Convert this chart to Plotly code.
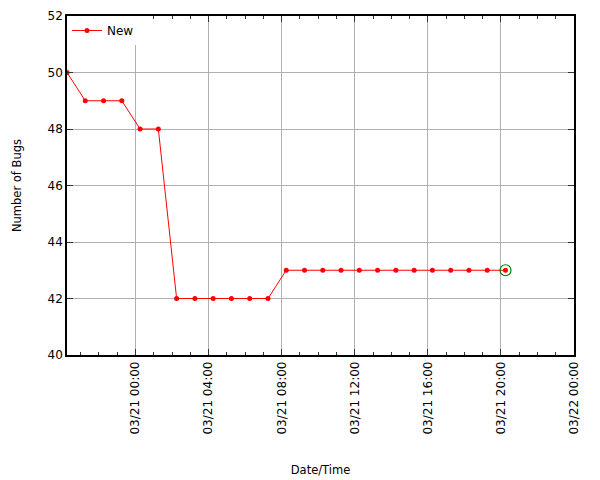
import plotly.graph_objects as go
import pandas as pd

times = pd.date_range("2024-03-20 20:15", periods=25, freq="h").strftime("%Y-%m-%d %H:%M").tolist()
new_bugs = [50, 49, 49, 49, 48, 48, 42, 42, 42, 42, 42, 42,
            43, 43, 43, 43, 43, 43, 43, 43, 43, 43, 43, 43, 43]
x_end = "2024-03-22 00:00"

fig = go.Figure()
fig.add_trace(go.Scatter(
    x=times, y=new_bugs, mode="lines+markers", name="New",
    line=dict(color="red", width=1), marker=dict(color="red", size=5),
))
fig.add_trace(go.Scatter(
    x=[times[-1]], y=[new_bugs[-1]], mode="markers", showlegend=False,
    marker=dict(symbol="circle-open", color="green", size=11, line=dict(width=1.2)),
))

fig.update_layout(
    width=600, height=480,
    margin=dict(l=59, r=34, t=8, b=133),
    plot_bgcolor="white", paper_bgcolor="white",
    font=dict(family="DejaVu Sans", size=12, color="black"),
    legend=dict(x=0.0, y=1.0, xanchor="left", yanchor="top", bgcolor="white",
                font=dict(size=12), borderwidth=0, tracegroupgap=0,
                itemwidth=30),
    showlegend=True,
)
fig.update_xaxes(
    type="date", range=[times[0], x_end], automargin=False,
    tick0="2024-03-21 00:00", dtick=4 * 3600 * 1000,
    tickformat="%m/%d %H:%M", tickangle=-90, tickfont=dict(size=12),
    ticks="inside", ticklen=6, tickcolor="#333",
    minor=dict(dtick=3600 * 1000, ticks="inside", ticklen=3, tickcolor="#333", showgrid=False),
    showgrid=True, gridcolor="#b0b0b0", gridwidth=1,
    showline=True, linecolor="black", linewidth=1.5, mirror="allticks",
    title=dict(text="Date/Time", standoff=32, font=dict(size=11.5)), zeroline=False,
)
fig.update_yaxes(
    range=[40, 52], dtick=2, automargin=False, tickfont=dict(size=12),
    ticks="inside", ticklen=6, tickcolor="#333",
    showgrid=True, gridcolor="#b0b0b0", gridwidth=1,
    showline=True, linecolor="black", linewidth=1.5, mirror="allticks",
    title=dict(text="Number of Bugs", standoff=24, font=dict(size=11.5)), zeroline=False,
)

fig.write_html("out.html")
